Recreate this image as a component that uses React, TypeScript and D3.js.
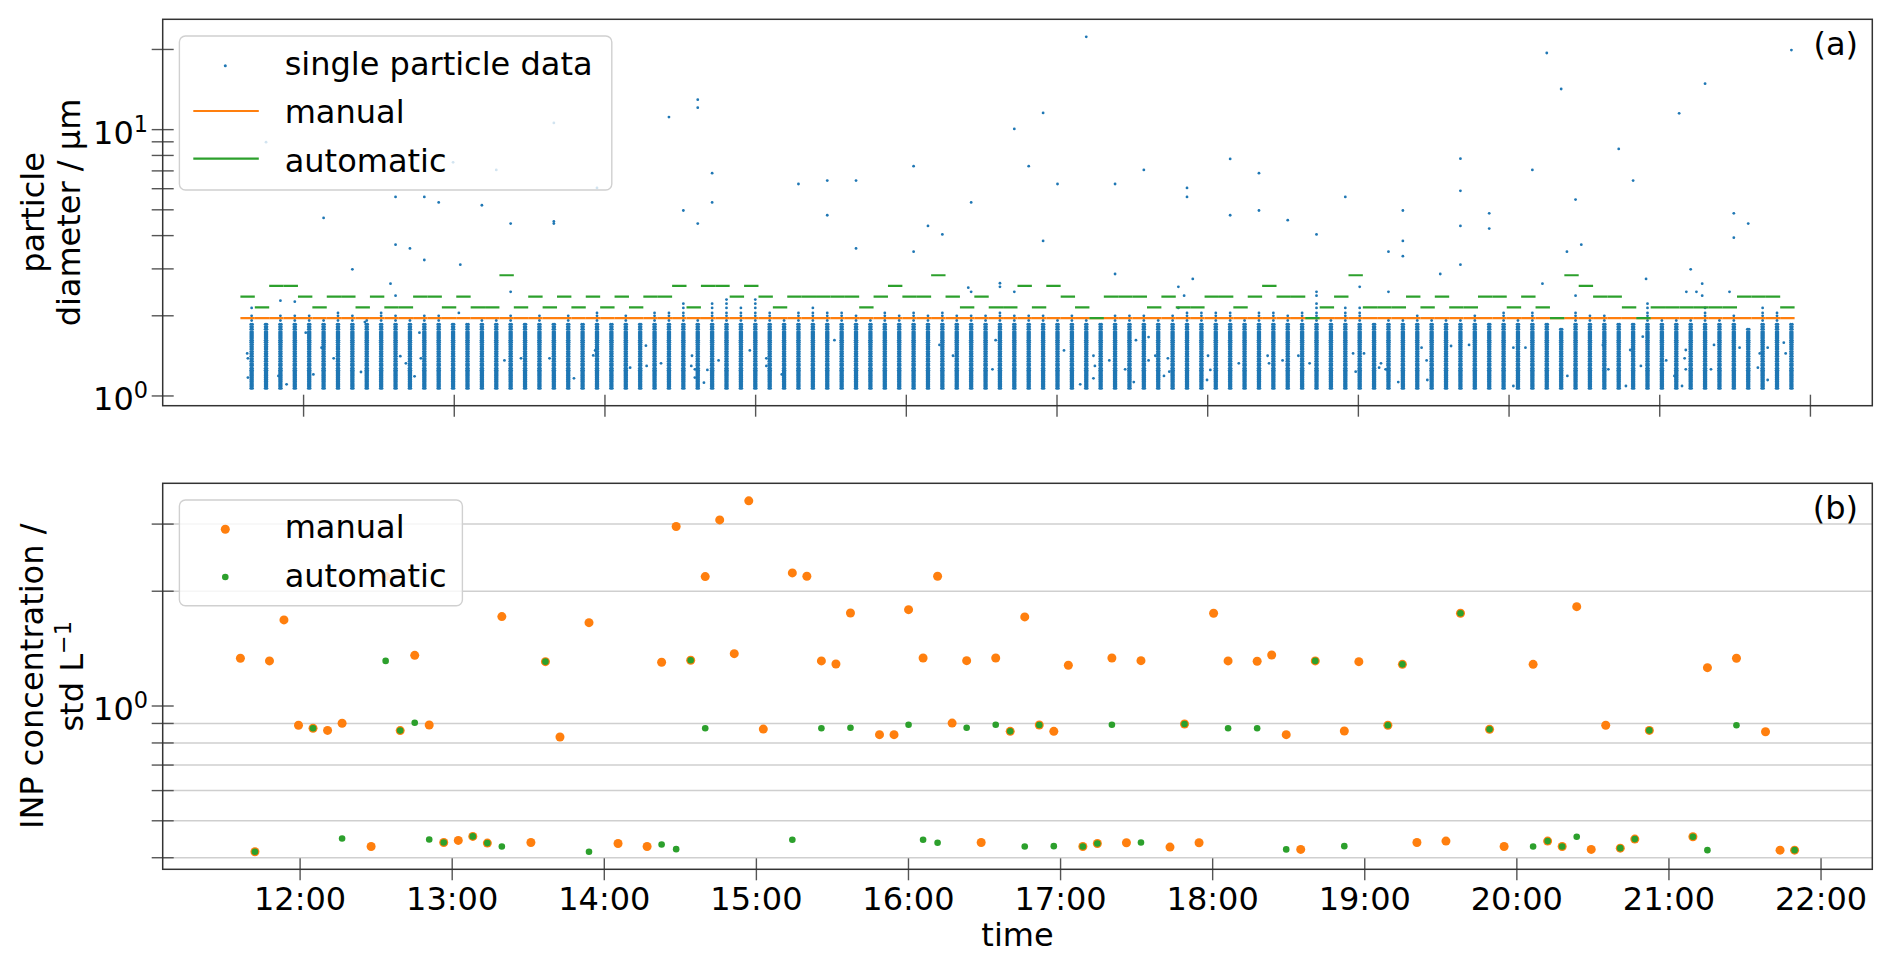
import React from "react";
import * as d3 from "d3";

// ---------------- data ----------------
// start times of the 108 sampling periods
const sampleTimes = [
  "11:36:27","11:42:11","11:47:55","11:53:38","11:59:22","12:05:06","12:10:50","12:16:34","12:22:17","12:28:01",
  "12:33:45","12:39:29","12:45:13","12:50:56","12:56:40","13:02:24","13:08:08","13:13:52","13:19:35","13:25:19",
  "13:31:03","13:36:47","13:42:31","13:48:14","13:53:58","13:59:42","14:05:26","14:11:10","14:16:53","14:22:37",
  "14:28:21","14:34:05","14:39:49","14:45:32","14:51:16","14:57:00","15:02:44","15:08:28","15:14:11","15:19:55",
  "15:25:39","15:31:23","15:37:07","15:42:50","15:48:34","15:54:18","16:00:02","16:05:46","16:11:29","16:17:13",
  "16:22:57","16:28:41","16:34:25","16:40:08","16:45:52","16:51:36","16:57:20","17:03:04","17:08:47","17:14:31",
  "17:20:15","17:25:59","17:31:43","17:37:26","17:43:10","17:48:54","17:54:38","18:00:22","18:06:05","18:11:49",
  "18:17:33","18:23:17","18:29:01","18:34:44","18:40:28","18:46:12","18:51:56","18:57:40","19:03:23","19:09:07",
  "19:14:51","19:20:35","19:26:19","19:32:02","19:37:46","19:43:30","19:49:14","19:54:58","20:00:41","20:06:25",
  "20:12:09","20:17:53","20:23:37","20:29:20","20:35:04","20:40:48","20:46:32","20:52:16","20:57:59","21:03:43",
  "21:09:27","21:15:11","21:20:55","21:26:38","21:32:22","21:38:06","21:43:50","21:49:34"
];

// (a) manual threshold diameter (µm)
const manualThreshold = 1.96;

// (a) automatic threshold diameter per sample (µm)
const automaticThreshold = [
  2.36,2.15,2.59,2.59,2.36,2.15,2.36,2.36,2.15,2.36,
  2.15,2.15,2.36,2.36,2.15,2.36,2.15,2.15,2.84,2.15,
  2.36,2.15,2.36,2.15,2.36,2.15,2.36,2.15,2.36,2.36,
  2.59,2.15,2.59,2.59,2.36,2.59,2.36,2.15,2.36,2.36,
  2.36,2.36,2.36,2.15,2.36,2.59,2.36,2.36,2.84,2.36,
  2.15,2.36,2.15,2.15,2.59,2.15,2.59,2.36,2.15,1.96,
  2.36,2.36,2.36,2.15,2.36,2.15,2.15,2.36,2.36,2.15,
  2.36,2.59,2.36,2.36,1.96,2.15,2.36,2.84,2.15,2.15,
  2.15,2.36,2.15,2.36,2.15,2.15,2.36,2.36,2.15,2.36,
  2.15,1.96,2.84,2.59,2.36,2.36,2.15,1.96,2.15,2.15,
  2.15,2.15,2.15,2.15,2.36,2.36,2.36,2.15
];

// (a) discrete particle size bins of the single particle data (µm): densely filled ones, then sparse ones
const denseBins = [
  1.07,1.09,1.11,1.13,1.15,1.17,1.19,1.21,1.23,1.25,1.27,1.30,1.32,1.35,1.38,1.41,1.44,1.47,1.50,1.53,
  1.56,1.59,1.62,1.65,1.68,1.71,1.74,1.78,1.82,1.86
];
const sparseBins = [1.92, 2.0, 2.05, 2.14, 2.22, 2.30];

// (a) largest bin populated in each sample's particle column (µm)
const columnTop = [
  2.0,1.86,2.0,2.0,2.0,1.92,2.05,2.0,1.92,2.05,
  2.0,1.92,2.0,2.0,1.86,1.86,1.92,1.92,2.0,1.86,
  2.0,1.86,2.0,1.86,2.05,1.86,2.0,1.86,2.05,2.05,
  2.22,1.92,2.22,2.30,2.14,2.30,2.05,1.92,2.05,2.14,
  2.05,2.05,2.0,1.92,2.05,2.0,2.05,2.0,2.05,2.0,
  2.0,2.0,2.05,2.0,2.0,2.0,1.92,2.0,1.92,1.86,
  2.0,2.0,2.0,1.92,2.0,2.05,2.05,2.05,2.05,1.92,
  2.05,2.05,2.0,2.05,2.22,1.92,2.14,2.14,1.86,1.92,
  1.92,2.0,1.92,1.92,1.92,2.0,1.86,2.05,1.92,2.05,
  1.86,1.80,2.05,2.0,2.0,1.86,1.86,2.22,1.92,1.92,
  1.92,2.14,1.92,2.0,1.80,2.14,2.05,1.86
];

// (a) isolated large particles: [column index, diameter µm]
const largeParticles: [number, number][] = [
  [5,4.66],[7,2.99],[10,5.59],[10,3.70],[9.65,2.64],[10,2.38],[11,3.58],[12,5.59],[12,3.24],[13,5.33],
  [14.5,3.11],[16,5.2],[18,4.44],[18,2.46],[21,4.44],[21,4.52],[21,10.6],[1,8.97],[14,7.54],[17,7.06],
  [24,6.04],[29,11.15],[31,12.96],[31,12.09],[30,4.97],[31,4.44],[32,6.86],[32,5.33],[0,2.14],[2,2.28],
  [3,2.26],[14.4,2.05],[38,6.25],[40,6.44],[40,4.77],[42,6.44],[42,3.58],[46,7.29],[46,3.48],[47,4.35],
  [48,4.04],[50,5.33],[49.8,2.55],[50,2.46],[52,2.65],[52,2.57],[53,10.06],[53,2.46],[54,7.29],[55,11.55],
  [55,3.82],[56,6.25],[58,22.3],[60,2.87],[60,6.25],[62,7.06],[65,6.04],[65,5.59],[65.4,2.75],[64.4,2.57],
  [64.8,2.38],[68,7.76],[68,4.77],[70,6.86],[70,4.97],[72,4.57],[64.4,2.14],[74,4.04],[74,2.46],[74,2.38],
  [76,5.59],[77,2.57],[79,3.48],[79,2.46],[80,4.97],[80,3.82],[80,3.35],[82.6,2.87],[84,7.78],[84,5.89],
  [84,4.35],[84,3.11],[86,4.85],[86,4.25],[89,7.06],[89.7,2.64],[90,19.4],[91,14.21],[92,5.46],[91.4,3.48],
  [92.4,3.70],[92,2.38],[95,8.46],[96,6.44],[96.9,2.75],[99.2,11.51],[101,14.88],[100,2.99],[99.7,2.46],[100.4,2.46],
  [100.8,2.64],[100.8,2.38],[103,4.85],[103,3.93],[104,4.44],[102.7,2.46],[107,19.9]
];

// (a) stray particles between the columns: [column index, diameter µm]
const strayParticles: [number, number][] = [
  [-0.31,1.445],[-0.26,1.384],[-0.26,1.172],[1.86,1.189],[2.43,1.106],[3.76,1.728],[4.29,1.205],[4.86,1.518],
  [5.7,1.384],[7.6,1.23],[7.87,1.895],[10.33,1.41],[10.72,1.326],[11.32,1.185],[11.66,1.728],[11.76,1.384],
  [17.57,1.36],[18.72,1.384],[20.7,1.384],[22.4,1.165],[23.74,1.42],[23.87,1.483],[26.3,1.277],[27.4,1.545],
  [27.45,1.296],[28.45,1.326],[30.6,1.416],[30.55,1.296],[30.8,1.259],[30.8,1.172],[31.43,1.122],[31.67,1.252],
  [32.45,1.36],[34.62,1.483],[35.77,1.384],[35.77,1.296],[36.84,1.205],[40.5,1.62],[47.8,1.554],[48.74,1.416],
  [51.48,1.259],[51.7,1.62],[56.45,1.483],[57.58,1.106],[58.5,1.416],[58.6,1.296],[58.5,1.165],[59.6,1.36],
  [60.7,1.259],[61.3,1.128],[61.45,1.62],[62.33,1.664],[62.33,1.36],[62.8,1.416],[63.4,1.189],[63.67,1.384],
  [63.77,1.234],[66.46,1.416],[66.39,1.148],[66.62,1.252],[68.6,1.326],[70.6,1.416],[70.7,1.326],[71.64,1.36],
  [72.74,1.416],[73.52,1.326],[76.54,1.445],[76.72,1.234],[77.3,1.445],[78.35,1.277],[78.48,1.326],[78.8,1.259],
  [79.68,1.128],[81.3,1.518],[81.65,1.36],[81.7,1.148],[83.35,1.54],[84.6,1.554],[87.68,1.518],[87.68,1.09],
  [88.52,1.518],[91.43,1.189],[93.9,1.554],[94.28,1.259],[95.5,1.09],[95.8,1.488],[96.54,1.296],[96.67,1.67],
  [98.3,1.36],[98.87,1.189],[99.4,1.09],[99.58,1.384],[99.66,1.488],[99.66,1.259],[101.41,1.259],[101.62,1.554],
  [103.4,1.518],[104.67,1.277],[104.8,1.445],[105.35,1.518],[105.35,1.148],[106.47,1.585],[106.6,1.445]
];

// (b) INP concentration (std L^-1), manual evaluation
const manualINP: (number | null)[] = [
  1.334,0.4147,1.313,1.682,0.890,0.874,0.863,0.901,null,0.428,
  2.19,0.862,1.358,0.8915,0.4386,0.4441,0.455,0.4369,1.716,null,
  0.4386,1.307,0.829,null,1.654,null,0.436,null,0.428,1.302,
  2.956,1.318,2.185,3.077,1.372,3.452,0.870,null,2.234,2.189,
  1.313,1.289,1.754,null,0.841,0.841,1.789,1.336,2.189,0.902,
  1.315,0.4386,1.336,0.858,1.713,0.8915,0.858,1.279,0.428,0.436,
  1.336,0.4378,1.315,null,0.4266,0.897,0.4378,1.751,1.313,null,
  1.31,1.361,0.841,0.4207,1.313,null,0.860,1.307,null,0.890,
  1.286,0.4386,null,0.4422,1.751,null,0.8686,0.428,null,1.286,
  0.4422,0.428,1.822,0.4207,0.890,0.4238,0.4476,0.863,null,null,
  0.454,1.2607,null,1.334,null,0.856,0.4188,0.4188
];

// (b) INP concentration (std L^-1), automatic evaluation
const automaticINP: (number | null)[] = [
  null,0.4147,null,null,null,0.874,null,0.4494,null,null,
  1.313,0.862,0.904,0.4467,0.4386,null,0.455,0.4369,0.428,null,
  null,1.307,null,null,0.4147,null,null,null,null,0.4334,
  0.4213,1.318,0.874,null,null,null,null,null,0.4459,null,
  0.874,null,0.877,null,null,null,0.893,0.4459,0.4378,null,
  0.877,null,0.893,0.858,0.428,0.8915,0.429,null,0.428,0.436,
  0.893,null,0.4386,null,null,0.897,null,null,0.874,null,
  0.874,null,0.4207,null,1.313,null,0.429,null,null,0.890,
  1.286,null,null,null,1.751,null,0.8686,null,null,0.428,
  0.4422,0.428,0.454,null,null,0.4238,0.4476,0.863,null,null,
  0.454,0.4188,null,0.890,null,null,null,0.4188
];

const hourTicks = [12, 13, 14, 15, 16, 17, 18, 19, 20, 21, 22];
const hourTickLabels = ["12:00","13:00","14:00","15:00","16:00","17:00","18:00","19:00","20:00","21:00","22:00"];

// ---------------- helpers ----------------
const FONT = "DejaVu Sans";
const BLUE = "#1f77b4";
const ORANGE = "#ff7f0e";
const GREEN = "#2ca02c";

function toMin(s: string) {
  const [h, m, sec] = s.split(":").map(Number);
  return h * 60 + m + sec / 60;
}
const T = sampleTimes.map(toMin);
function timeAt(idx: number) {
  const i = Math.max(0, Math.min(T.length - 2, Math.floor(idx)));
  return T[i] + (idx - i) * (T[i + 1] - T[i]);
}
// position of the particle column and of the threshold segment within a sampling period
const COLUMN_SHIFT = 0.5;
const SEG_FROM = -0.28;
const SEG_TO = 0.72;
// small spread of particle arrival times inside a column (fraction of a period)
const COLUMN_SPREAD = [-0.055, 0.055];

function pad(lo: number, hi: number, f = 0.05): [number, number] {
  const r = hi - lo;
  return [lo - f * r, hi + f * r];
}
function padLog(lo: number, hi: number): [number, number] {
  const [a, b] = pad(Math.log10(lo), Math.log10(hi));
  return [Math.pow(10, a), Math.pow(10, b)];
}

const L = 162.7, R = 1872.3;
const A_TOP = 19.3, A_BOT = 405.7;
const B_TOP = 483.3, B_BOT = 869.3;

export default function App() {
  // ---- panel (a) scales
  const aTimes: number[] = [];
  T.forEach((_, i) => {
    aTimes.push(timeAt(i + SEG_FROM), timeAt(i + SEG_TO), timeAt(i + COLUMN_SHIFT));
  });
  largeParticles.forEach(([c]) => aTimes.push(timeAt(c + COLUMN_SHIFT)));
  strayParticles.forEach(([c]) => aTimes.push(timeAt(c + COLUMN_SHIFT)));
  const xA = d3.scaleLinear().domain(pad(d3.min(aTimes)!, d3.max(aTimes)!)).range([L, R]);

  const aVals = [
    ...denseBins,
    ...largeParticles.map((d) => d[1]),
    ...strayParticles.map((d) => d[1]),
    ...automaticThreshold,
    manualThreshold,
  ];
  const yA = d3.scaleLog().domain(padLog(d3.min(aVals)!, d3.max(aVals)!)).range([A_BOT, A_TOP]);

  // ---- panel (b) scales
  const xB = d3.scaleLinear().domain(pad(d3.min(T)!, d3.max(T)!)).range([L, R]);
  const bVals = [...manualINP, ...automaticINP].filter((v): v is number => v != null);
  const yB = d3.scaleLog().domain(padLog(d3.min(bVals)!, d3.max(bVals)!)).range([B_BOT, B_TOP]);

  // ---- marks
  const columnDots: JSX.Element[] = [];
  T.forEach((_, i) => {
    denseBins.forEach((b, k) => {
      if (b <= columnTop[i] + 1e-9) {
        COLUMN_SPREAD.forEach((s, j) => {
          columnDots.push(
            <circle key={`c${i}-${k}-${j}`} cx={xA(timeAt(i + COLUMN_SHIFT + s))} cy={yA(b)} r={1.5} fill={BLUE} />
          );
        });
      }
    });
    sparseBins.forEach((b, k) => {
      if (b <= columnTop[i] + 1e-9) {
        columnDots.push(<circle key={`s${i}-${k}`} cx={xA(timeAt(i + COLUMN_SHIFT))} cy={yA(b)} r={1.4} fill={BLUE} />);
      }
    });
  });
  const looseDots = [...largeParticles, ...strayParticles].map(([c, d], k) => (
    <circle key={`o${k}`} cx={xA(timeAt(c + COLUMN_SHIFT))} cy={yA(d)} r={1.4} fill={BLUE} />
  ));
  const manualSegs = T.map((_, i) => (
    <line key={`m${i}`} x1={xA(timeAt(i + SEG_FROM))} x2={xA(timeAt(i + SEG_TO))}
      y1={yA(manualThreshold)} y2={yA(manualThreshold)} stroke={ORANGE} strokeWidth={2.2} />
  ));
  const autoSegs = automaticThreshold.map((v, i) => (
    <line key={`g${i}`} x1={xA(timeAt(i + SEG_FROM))} x2={xA(timeAt(i + SEG_TO))}
      y1={yA(v)} y2={yA(v)} stroke={GREEN} strokeWidth={2.2} />
  ));

  const spineColor = "#333";
  const tickColor = "#555";
  const TL = 11; // tick half length (in-out ticks)

  // panel (a) y ticks
  const aMajor = [1, 10];
  const aMinor = [2, 3, 4, 5, 6, 7, 8, 9, 20, 30].filter((v) => yA(v) >= A_TOP && yA(v) <= A_BOT);
  // panel (b) y ticks
  const bMajor = [1];
  const bMinor = [0.4, 0.5, 0.6, 0.7, 0.8, 0.9, 2, 3].filter((v) => yB(v) >= B_TOP && yB(v) <= B_BOT);

  const yTickMarks = (scale: (v: number) => number, vals: number[], key: string) =>
    vals.map((v) => (
      <line key={`${key}${v}`} x1={L - TL} x2={L + TL} y1={scale(v)} y2={scale(v)} stroke={tickColor} strokeWidth={1.4} />
    ));
  const xTickMarks = (scale: (v: number) => number, y: number, key: string) =>
    hourTicks.map((h) => (
      <line key={`${key}${h}`} x1={scale(h * 60)} x2={scale(h * 60)} y1={y - TL} y2={y + TL} stroke={tickColor} strokeWidth={1.4} />
    ));
  const powLabel = (y: number, exp: string, key: string) => (
    <text key={key} x={148} y={y + 14} textAnchor="end" fontSize={32} fontFamily={FONT} fill="#000">
      10<tspan dy={-12} fontSize={22.4}>{exp}</tspan>
    </text>
  );

  return (
    <svg width={1892} height={965} style={{ position: "fixed", left: 0, top: 0, background: "#fff" }}
      fontFamily={FONT}>
      <rect x={0} y={0} width={1892} height={965} fill="#fff" />

      {/* ---------- panel (a) ---------- */}
      <defs>
        <clipPath id="clipA"><rect x={L} y={A_TOP} width={R - L} height={A_BOT - A_TOP} /></clipPath>
        <clipPath id="clipB"><rect x={L} y={B_TOP} width={R - L} height={B_BOT - B_TOP} /></clipPath>
      </defs>
      <g clipPath="url(#clipA)">
        {columnDots}
        {looseDots}
        {manualSegs}
        {autoSegs}
      </g>
      {yTickMarks(yA, aMinor, "aminor")}
      {yTickMarks(yA, aMajor, "amajor")}
      {xTickMarks(xA, A_BOT, "ax")}
      <rect x={L} y={A_TOP} width={R - L} height={A_BOT - A_TOP} fill="none" stroke={spineColor} strokeWidth={1.5} />
      {powLabel(yA(1), "0", "a0")}
      {powLabel(yA(10), "1", "a1")}
      <text x={1858} y={55} textAnchor="end" fontSize={32}>(a)</text>
      <g transform={`translate(44, ${(A_TOP + A_BOT) / 2}) rotate(-90)`}>
        <text x={0} y={0} textAnchor="middle" fontSize={32}>particle</text>
      </g>
      <g transform={`translate(80, ${(A_TOP + A_BOT) / 2}) rotate(-90)`}>
        <text x={0} y={0} textAnchor="middle" fontSize={32}>diameter / µm</text>
      </g>
      {/* legend (a) */}
      <g>
        <rect x={179.4} y={36} width={432.4} height={154} rx={6} fill="#fff" fillOpacity={0.8} stroke="#d0d0d0" strokeWidth={1.4} />
        <circle cx={225.3} cy={65.7} r={1.5} fill={BLUE} />
        <text x={284.7} y={74.5} fontSize={32}>single particle data</text>
        <line x1={193.3} x2={258.8} y1={111} y2={111} stroke={ORANGE} strokeWidth={2.2} />
        <text x={284.7} y={123} fontSize={32}>manual</text>
        <line x1={193.3} x2={258.8} y1={158.7} y2={158.7} stroke={GREEN} strokeWidth={2.2} />
        <text x={284.7} y={171.6} fontSize={32}>automatic</text>
      </g>

      {/* ---------- panel (b) ---------- */}
      {bMinor.map((v) => (
        <line key={`grid${v}`} x1={L} x2={R} y1={yB(v)} y2={yB(v)} stroke="#cfcfcf" strokeWidth={1.5} />
      ))}
      <g clipPath="url(#clipB)">
        {manualINP.map((v, i) =>
          v == null ? null : <circle key={`bm${i}`} cx={xB(T[i])} cy={yB(v)} r={4.5} fill={ORANGE} />
        )}
        {automaticINP.map((v, i) =>
          v == null ? null : <circle key={`ba${i}`} cx={xB(T[i])} cy={yB(v)} r={3.3} fill={GREEN} />
        )}
      </g>
      {yTickMarks(yB, bMinor, "bminor")}
      {yTickMarks(yB, bMajor, "bmajor")}
      {xTickMarks(xB, B_BOT, "bx")}
      <rect x={L} y={B_TOP} width={R - L} height={B_BOT - B_TOP} fill="none" stroke={spineColor} strokeWidth={1.5} />
      {powLabel(yB(1), "0", "b0")}
      {hourTicks.map((h, k) => (
        <text key={`bl${h}`} x={xB(h * 60)} y={910} textAnchor="middle" fontSize={32}>{hourTickLabels[k]}</text>
      ))}
      <text x={(L + R) / 2} y={946} textAnchor="middle" fontSize={32}>time</text>
      <text x={1858} y={518.5} textAnchor="end" fontSize={32}>(b)</text>
      <g transform={`translate(43, ${(B_TOP + B_BOT) / 2}) rotate(-90)`}>
        <text x={0} y={0} textAnchor="middle" fontSize={32}>INP concentration /</text>
      </g>
      <g transform={`translate(83, ${(B_TOP + B_BOT) / 2}) rotate(-90)`}>
        <text x={0} y={0} textAnchor="middle" fontSize={32}>
          std L<tspan dy={-12} fontSize={22.4}>−1</tspan>
        </text>
      </g>
      {/* legend (b) */}
      <g>
        <rect x={179.4} y={500} width={283} height={105.7} rx={6} fill="#fff" fillOpacity={0.8} stroke="#d0d0d0" strokeWidth={1.4} />
        <circle cx={225.3} cy={529.3} r={4.5} fill={ORANGE} />
        <text x={284.7} y={538.3} fontSize={32}>manual</text>
        <circle cx={225.3} cy={577} r={3.3} fill={GREEN} />
        <text x={284.7} y={586.7} fontSize={32}>automatic</text>
      </g>
    </svg>
  );
}
